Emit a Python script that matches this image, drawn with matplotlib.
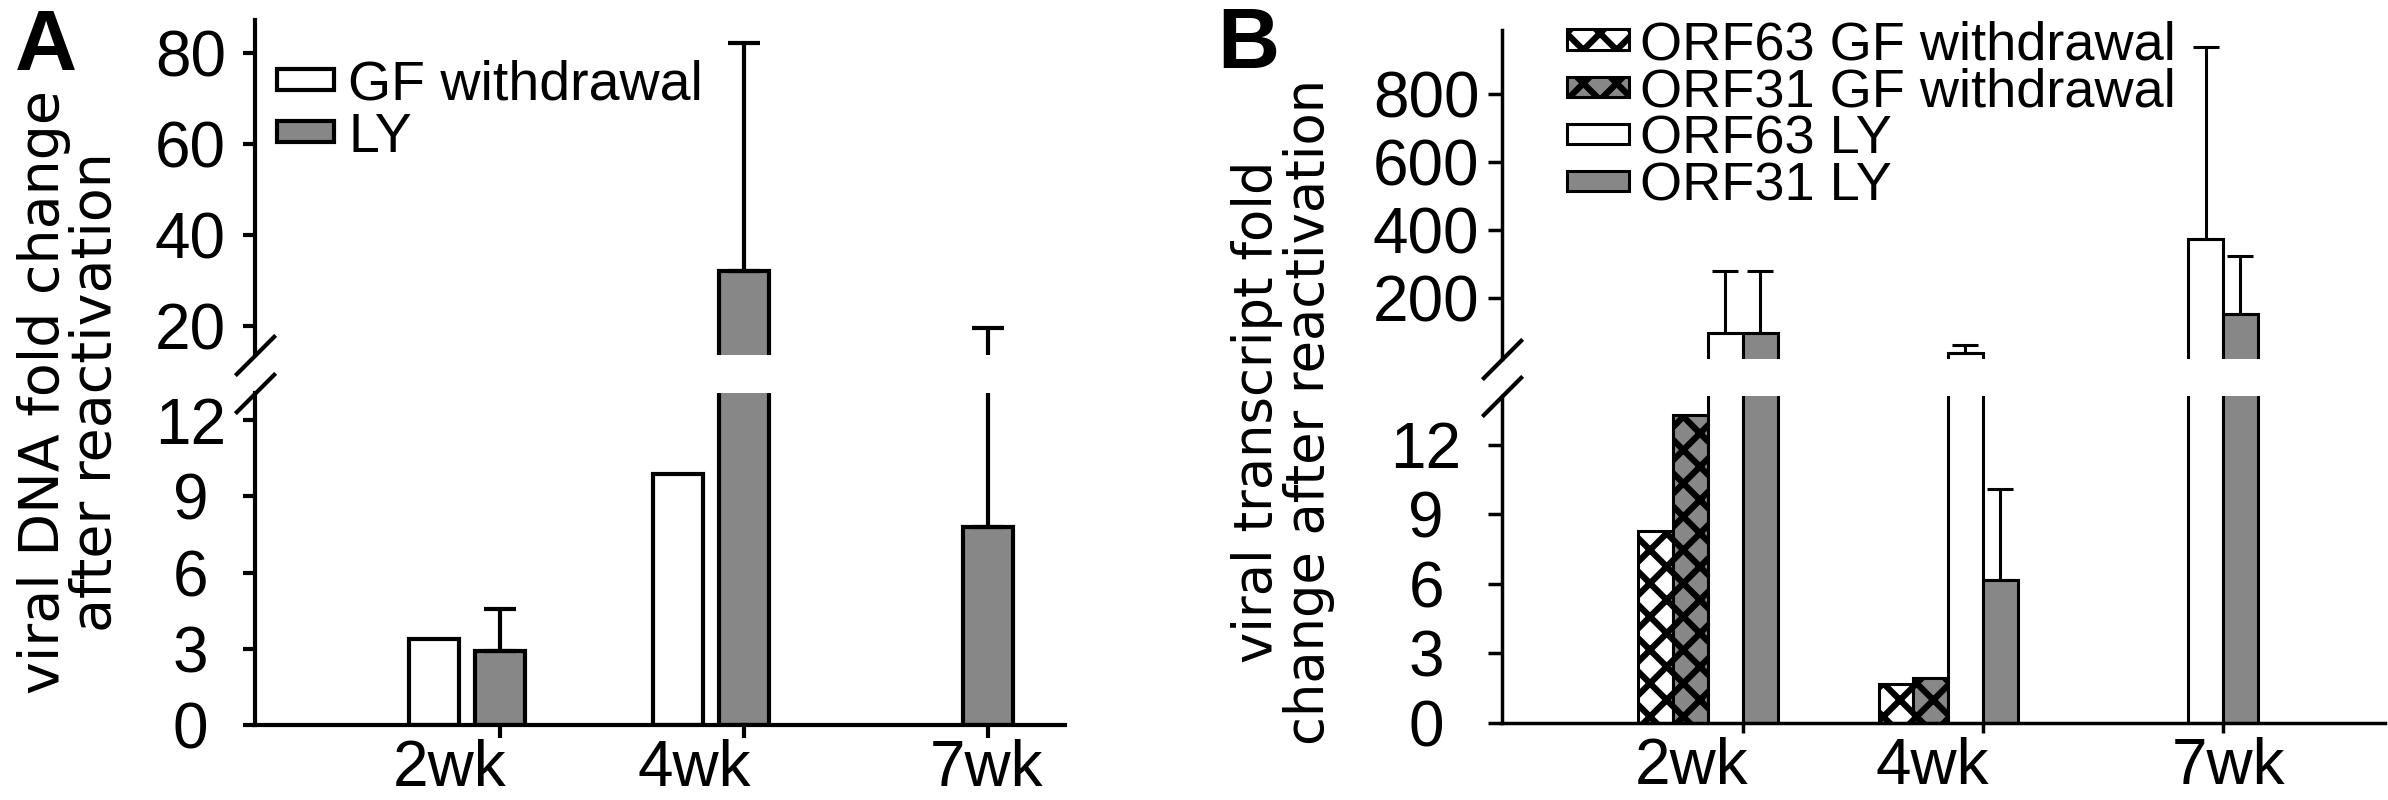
import numpy as np
import matplotlib
matplotlib.use('Agg')
import matplotlib.pyplot as plt

plt.rcParams['font.family'] = ['Liberation Sans', 'DejaVu Sans']
plt.rcParams['hatch.linewidth'] = 4.5
plt.rcParams['hatch.color'] = 'black'

weeks = ['2wk', '4wk', '7wk']

# panel A: viral DNA fold change
dna_gf = [3.4, 9.9, np.nan]
dna_ly = [2.9, 32.1, 7.8]
dna_ly_err = [1.65, 50.1, 11.8]

# panel B: viral transcript fold change
orf63_gf = [8.3, 1.7, np.nan]
orf31_gf = [13.3, 1.95, np.nan]
orf63_ly = [98, 38, 374]
orf63_ly_err = [180, 22, 566]
orf31_ly = [98, 6.16, 152]
orf31_ly_err = [180, 3.95, 171]

GRAY = '#878787'
x = np.arange(len(weeks))

fig = plt.figure(figsize=(23.88, 8), dpi=100)

axA_lo = fig.add_axes([0.10678, 0.09375, 0.3392, 0.415])
axA_hi = fig.add_axes([0.10678, 0.55625, 0.3392, 0.41875])
axB_lo = fig.add_axes([0.62898, 0.09625, 0.36977, 0.40875])
axB_hi = fig.add_axes([0.62898, 0.55125, 0.36977, 0.41125])


def draw_a(ax):
    w = 0.205
    b1 = ax.bar(x - 0.136, dna_gf, w, color='white', edgecolor='black', lw=3, label='GF withdrawal')
    b2 = ax.bar(x + 0.136, dna_ly, w, color=GRAY, edgecolor='black', lw=3, label='LY')
    ax.errorbar(x + 0.136, dna_ly, yerr=[np.zeros(len(x)), dna_ly_err], fmt='none',
                ecolor='black', elinewidth=3, capsize=11.5, capthick=3)
    ax.set_xlim(-0.869, 2.45)
    return [b1, b2]


def draw_b(ax):
    w = 0.1448
    b1 = ax.bar(x - 1.5 * w, orf63_gf, w, color='white', edgecolor='black', lw=2.2,
                hatch='x', label='ORF63 GF withdrawal')
    b2 = ax.bar(x - 0.5 * w, orf31_gf, w, color=GRAY, edgecolor='black', lw=2.2,
                hatch='x', label='ORF31 GF withdrawal')
    b3 = ax.bar(x + 0.5 * w, orf63_ly, w, color='white', edgecolor='black', lw=2.2, label='ORF63 LY')
    b4 = ax.bar(x + 1.5 * w, orf31_ly, w, color=GRAY, edgecolor='black', lw=2.2, label='ORF31 LY')
    ax.errorbar(x + 0.5 * w, orf63_ly, yerr=[np.zeros(len(x)), orf63_ly_err], fmt='none',
                ecolor='black', elinewidth=2.2, capsize=9.5, capthick=2.2)
    ax.errorbar(x + 1.5 * w, orf31_ly, yerr=[np.zeros(len(x)), orf31_ly_err], fmt='none',
                ecolor='black', elinewidth=2.2, capsize=9.5, capthick=2.2)
    ax.set_xlim(-0.858, 2.82)
    return [b1, b2, b3, b4]


def style(ax, lower, lw, ylen, ypad, xlen, tick_off, label_off):
    ax.spines['top'].set_visible(False)
    ax.spines['right'].set_visible(False)
    ax.spines['left'].set_linewidth(lw)
    ax.tick_params(axis='y', direction='out', length=ylen, width=lw, labelsize=46, pad=ypad)
    for lab in ax.get_yticklabels():
        lab.set_horizontalalignment('center')
    ax.patch.set_alpha(0)
    if lower:
        ax.spines['bottom'].set_linewidth(lw)
        ax.set_xticks(x + tick_off)
        ax.set_xticks(x + np.array(label_off), labels=weeks, minor=True)
        ax.tick_params(axis='x', which='major', direction='out', length=xlen, width=lw,
                       labelbottom=False)
        ax.tick_params(axis='x', which='minor', length=0, labelsize=46, pad=10)
        # break mark at the top of the lower part
        ax.plot([0], [1], transform=ax.transAxes, marker=[(-1, -1), (1, 1)], markersize=29,
                mew=3, color='black', clip_on=False, zorder=5)
    else:
        ax.spines['bottom'].set_visible(False)
        ax.tick_params(axis='x', bottom=False, labelbottom=False)
        ax.plot([0], [0], transform=ax.transAxes, marker=[(-1, -1), (1, 1)], markersize=29,
                mew=3, color='black', clip_on=False, zorder=5)


# panel A
handles_a = draw_a(axA_hi)
draw_a(axA_lo)
axA_hi.set_ylim(13.65, 87.2)
axA_hi.set_yticks([20, 40, 60, 80])
axA_lo.set_ylim(0, 13.07)
axA_lo.set_yticks([0, 3, 6, 9, 12])
style(axA_hi, False, 3, 8.6, 38, 9.4, 0.136, [-0.07, -0.07, 0.13])
style(axA_lo, True, 3, 8.6, 38, 9.4, 0.136, [-0.07, -0.07, 0.13])

axA_hi.legend(handles=handles_a, loc='upper left', bbox_to_anchor=(277 / 2388, 1 - 60 / 800),
              bbox_transform=fig.transFigure, frameon=False, fontsize=40, handlelength=1.03,
              handleheight=0.2, handletextpad=0.25, labelspacing=0.0, borderpad=0,
              borderaxespad=0)

# panel B
handles_b = draw_b(axB_hi)
draw_b(axB_lo)
axB_hi.set_ylim(20, 990)
axB_hi.set_yticks([200, 400, 600, 800])
axB_lo.set_ylim(0, 14.1)
axB_lo.set_yticks([0, 3, 6, 9, 12])
style(axB_hi, False, 2.5, 10, 44.6, 7, 0.1448, [-0.067, -0.067, 0.167])
style(axB_lo, True, 2.5, 10, 44.6, 7, 0.1448, [-0.067, -0.067, 0.167])

axB_hi.legend(handles=handles_b, loc='upper left', bbox_to_anchor=(1567 / 2388, 1 - 20 / 800),
              bbox_transform=fig.transFigure, frameon=False, fontsize=39, handlelength=1.15,
              handleheight=0.2, handletextpad=0.2, labelspacing=-0.05, borderpad=0,
              borderaxespad=0)

# panel letters and axis titles
fig.text(15 / 2388, 1 - 8 / 800, 'A', fontsize=62, fontweight='bold', ha='left', va='top')
fig.text(1217 / 2388, 1 - 6 / 800, 'B', fontsize=62, fontweight='bold', ha='left', va='top')
fig.text(70 / 2388, 1 - 392 / 800, 'viral DNA fold change\nafter reactivation', rotation=90,
         ha='center', va='center', multialignment='center', fontsize=40,
         family=['DejaVu Sans'], linespacing=0.95)
fig.text(1283 / 2388, 1 - 412 / 800, 'viral transcript fold\nchange after reactivation',
         rotation=90, ha='center', va='center', multialignment='center', fontsize=38,
         family=['DejaVu Sans'], linespacing=1.0)

fig.savefig('out.png', dpi=100)
